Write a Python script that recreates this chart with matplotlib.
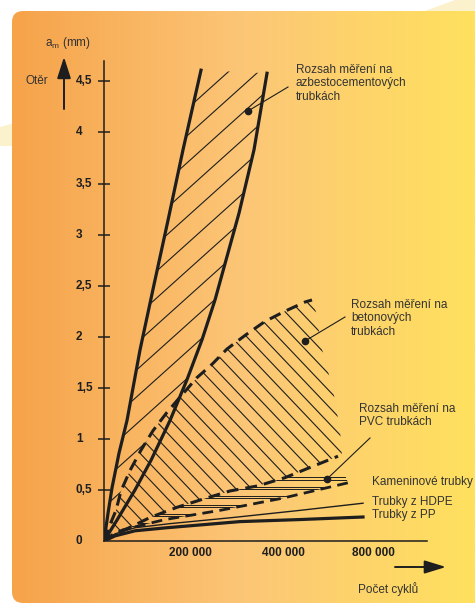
import numpy as np
import matplotlib
matplotlib.use("Agg")
import matplotlib.pyplot as plt
from matplotlib.patches import Polygon, FancyBboxPatch

plt.rcParams['font.family'] = ['Liberation Sans', 'DejaVu Sans']

# x = position on the (non linear) cycle axis, y = wear a_m in mm
azb_left_x = [0, 0.04, 0.08, 0.15, 0.23, 0.36, 0.50, 0.64, 0.79, 0.97]
azb_left_y = [0, 0.27, 0.52, 0.86, 1.18, 1.87, 2.51, 3.14, 3.83, 4.61]
azb_right_x = [0, 0.13, 0.31, 0.47, 0.66, 0.83, 0.98, 1.11, 1.22, 1.35, 1.50, 1.63]
azb_right_y = [0, 0.205, 0.50, 0.79, 1.18, 1.58, 1.97, 2.36, 2.75, 3.21, 3.83, 4.58]

bet_top_x = [0, 0.06, 0.12, 0.17, 0.26, 0.37, 0.49, 0.63, 0.77, 0.93, 1.08, 1.23, 1.42, 1.61, 1.81, 2.01, 2.08]
bet_top_y = [0, 0.16, 0.30, 0.49, 0.69, 0.89, 1.08, 1.26, 1.42, 1.60, 1.73, 1.88, 2.02, 2.15, 2.25, 2.34, 2.36]
bet_edge_x = [2.11, 2.18, 2.29, 2.36, 2.38]
bet_edge_y = [2.29, 1.88, 1.48, 1.09, 0.83]
bet_low_x = [0, 0.21, 0.46, 0.73, 0.99, 1.26, 1.54, 1.81, 2.06, 2.34]
bet_low_y = [0, 0.11, 0.23, 0.33, 0.41, 0.49, 0.54, 0.62, 0.72, 0.83]

kam_x = [0, 0.08, 0.19, 0.61, 1.16, 1.79, 2.44]
kam_y = [0, 0.06, 0.11, 0.21, 0.30, 0.42, 0.57]
hdpe_x = [0, 0.11, 0.31, 0.66, 1.29, 1.96, 2.59]
hdpe_y = [0, 0.07, 0.13, 0.17, 0.23, 0.30, 0.37]
pp_x = [0, 0.11, 0.31, 0.63, 1.36, 1.96, 2.59]
pp_y = [0, 0.05, 0.10, 0.13, 0.19, 0.21, 0.235]

y_ticks = [0.5, 1, 1.5, 2, 2.5, 3, 3.5, 4, 4.5]
y_labels = ["0", "0,5", "1", "1,5", "2", "2,5", "3", "3,5", "4", "4,5"]
x_ticks = [0.86, 1.79, 2.69]
x_labels = ["200 000", "400 000", "800 000"]

ink = "#1e1e1e"
txt = "#333333"

fig = plt.figure(figsize=(4.75, 6.05), dpi=100)

# background (pixel coordinates)
bg = fig.add_axes([0, 0, 1, 1], zorder=0)
bg.set_xlim(0, 475)
bg.set_ylim(605, 0)
bg.axis("off")
bg.add_patch(Polygon([(0, 127), (425, 11), (455, 0), (475, 0), (475, 200), (12, 146), (0, 146)],
                     closed=True, facecolor="#fbf1cc", edgecolor="none", zorder=0))
box = FancyBboxPatch((12, 11), 480, 592, boxstyle="round,pad=0,rounding_size=11",
                     facecolor="none", edgecolor="none")
bg.add_patch(box)
stops = np.array([[246, 163, 74], [252, 198, 119], [255, 225, 94]]) / 255
t = np.linspace(0, 1, 300)
grad = np.stack([np.interp(t, [0, 0.5, 1], stops[:, i]) for i in range(3)], axis=-1)[None, :, :]
im = bg.imshow(grad, extent=[12, 475, 603, 11], aspect="auto", interpolation="bilinear", zorder=2)
im.set_clip_path(box)

# main chart
ax = fig.add_axes([104 / 475, 1 - 541 / 605, 323 / 475, 480 / 605], zorder=1)
ax.set_facecolor("none")
ax.set_xlim(0, 3.23)
ax.set_ylim(0, 4.7)
for s in ["top", "right"]:
    ax.spines[s].set_visible(False)
for s in ["left", "bottom"]:
    ax.spines[s].set_linewidth(1.1)
    ax.spines[s].set_color(ink)
ax.set_xticks([])
ax.set_yticks(y_ticks)
ax.set_yticklabels([])
ax.tick_params(axis="y", direction="inout", length=8, width=1.1, color=ink)

for v, lab in zip([0] + y_ticks, y_labels):
    ax.text(-0.0867, v, lab, transform=ax.get_yaxis_transform(), ha="left", va="center",
            fontsize=8.5, fontweight="bold", color=ink)
for v, lab in zip(x_ticks, x_labels):
    ax.text(v, -0.025, lab, transform=ax.get_xaxis_transform(), ha="center", va="center",
            fontsize=8.5, fontweight="bold", color=ink)


def clip_poly(pts):
    p = Polygon(pts, closed=True, fill=False, edgecolor="none")
    ax.add_patch(p)
    return p


def hatch(poly, slope, c0, step, lw=0.8):
    xs = np.array([-1.0, 5.0])
    for c in c0 + step * np.arange(-60, 60):
        ln, = ax.plot(xs, slope * xs + c, color=ink, lw=lw, solid_capstyle="butt")
        ln.set_clip_path(poly)


# asbestos region: left line, top, right line down to crossing with concrete top, concrete top to origin
yy = np.linspace(0.05, 2.3, 800)
xr = np.interp(yy, azb_right_y, azb_right_x)
xd = np.interp(yy, bet_top_y, bet_top_x)
i = np.argmax(xd > xr)
yc, xc = yy[i], xr[i]
azb_pts = list(zip(azb_left_x, azb_left_y))
azb_pts += [(x, y) for x, y in zip(azb_right_x[::-1], azb_right_y[::-1]) if y > yc]
azb_pts += [(xc, yc)]
azb_pts += [(x, y) for x, y in zip(bet_top_x[::-1], bet_top_y[::-1]) if y < yc]
hatch(clip_poly(azb_pts), 0.88, 3.50, 0.264)

bet_pts = list(zip(bet_top_x, bet_top_y)) + list(zip(bet_edge_x, bet_edge_y)) + \
    list(zip(bet_low_x[::-1], bet_low_y[::-1]))
hatch(clip_poly(bet_pts), -1.03, 2.83, 0.16)

pvc_pts = list(zip(bet_low_x, bet_low_y)) + list(zip(kam_x[::-1], kam_y[::-1]))
pvc_poly = clip_poly(pvc_pts)
for lv in np.arange(0.15, 0.62, 0.09):
    for d in (0, 0.022):
        ln, = ax.plot([0, 3], [lv + d, lv + d], color=ink, lw=0.7)
        ln.set_clip_path(pvc_poly)

ax.plot(azb_left_x, azb_left_y, color=ink, lw=2.3, solid_joinstyle="round")
ax.plot(azb_right_x, azb_right_y, color=ink, lw=2.3, solid_joinstyle="round")
ax.plot(bet_top_x, bet_top_y, color=ink, lw=2.2, dashes=(3.9, 2.3))
ax.plot(bet_low_x, bet_low_y, color=ink, lw=2.2, dashes=(3.9, 2.3))
ax.plot(kam_x, kam_y, color=ink, lw=2.0, dashes=(3.9, 2.3))
ax.plot(hdpe_x, hdpe_y, color=ink, lw=1.0)
ax.plot(pp_x, pp_y, color=ink, lw=2.3)

# annotations (pixel coordinates)
ov = fig.add_axes([0, 0, 1, 1], zorder=2)
ov.set_xlim(0, 475)
ov.set_ylim(605, 0)
ov.axis("off")

for (x0, y0), (x1, y1) in [((248, 111), (288, 87)), ((305, 341), (345, 317)), ((327, 479), (370, 438))]:
    ov.plot([x0, x1], [y0, y1], color=ink, lw=0.8)
    ov.plot(x0, y0, "o", color=ink, ms=4.5)

fs = 8.5
ov.text(296, 64, "Rozsah měření na\nazbestocementových\ntrubkách", fontsize=fs, color=txt,
        va="top", ha="left", linespacing=1.15)
ov.text(351, 299, "Rozsah měření na\nbetonových\ntrubkách", fontsize=fs, color=txt,
        va="top", ha="left", linespacing=1.15)
ov.text(359, 403, "Rozsah měření na\nPVC trubkách", fontsize=fs, color=txt,
        va="top", ha="left", linespacing=1.15)
ov.text(372, 482, "Kameninové trubky", fontsize=fs, color=txt, va="center", ha="left")
ov.text(372, 502, "Trubky z HDPE", fontsize=fs, color=txt, va="center", ha="left")
ov.text(372, 515, "Trubky z PP", fontsize=fs, color=txt, va="center", ha="left")
ov.text(25, 81, "Otěr", fontsize=fs, color=txt, va="center", ha="left")
ov.text(45, 43, r"a$_\mathregular{m}$ (mm)", fontsize=fs, color=txt, va="center", ha="left")
ov.text(358, 589, "Počet cyklů", fontsize=fs, color=txt, va="center", ha="left")

ov.annotate("", xy=(64, 57), xytext=(64, 109),
            arrowprops=dict(arrowstyle="-|>,head_length=1.3,head_width=0.42", color=ink, lw=1.4,
                            shrinkA=0, shrinkB=0))
ov.annotate("", xy=(446, 567), xytext=(395, 567),
            arrowprops=dict(arrowstyle="-|>,head_length=1.3,head_width=0.4", color=ink, lw=1.4,
                            shrinkA=0, shrinkB=0))

fig.savefig("out.png", dpi=100)
